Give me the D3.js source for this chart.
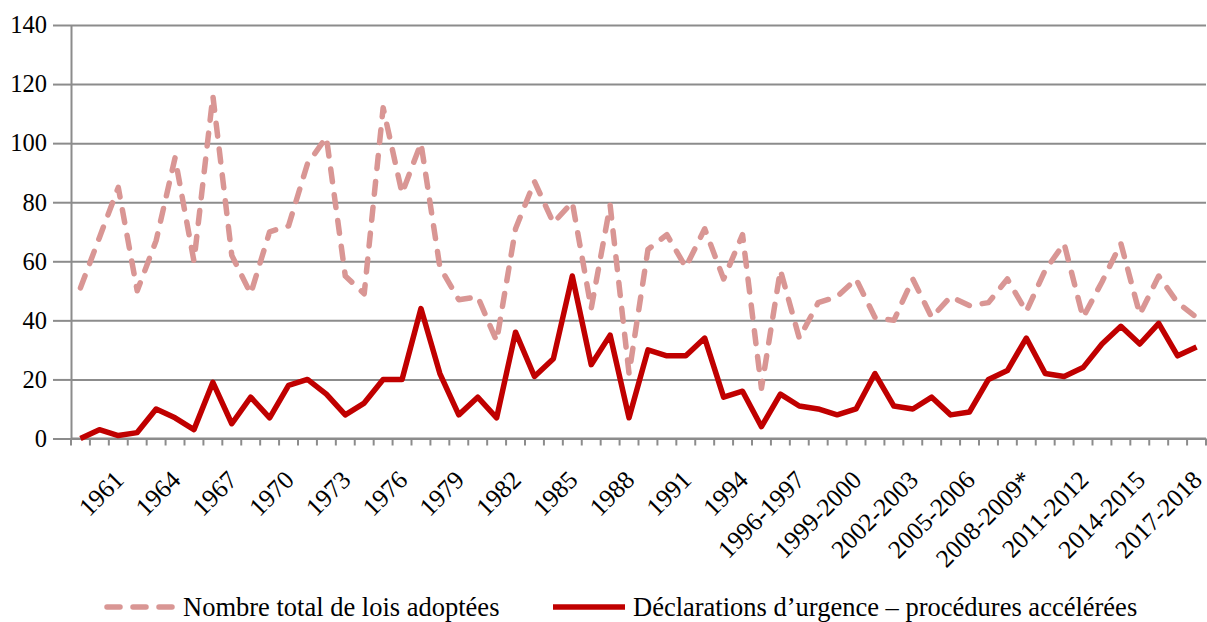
<!DOCTYPE html>
<html>
<head>
<meta charset="utf-8">
<script src="https://cdn.jsdelivr.net/npm/d3@7"></script>
<style>
  body { margin: 0; background: #fff; }
  svg text { font-family: "Liberation Serif", "Times New Roman", serif; fill: #000; }
</style>
</head>
<body>
<div id="chart"></div>
<script>
// categories: single years 1959-1995, then sessions 1995-1996 ... 2017-2018
const categories = [
  "1959","1960","1961","1962","1963","1964","1965","1966","1967","1968",
  "1969","1970","1971","1972","1973","1974","1975","1976","1977","1978",
  "1979","1980","1981","1982","1983","1984","1985","1986","1987","1988",
  "1989","1990","1991","1992","1993","1994","1995",
  "1995-1996","1996-1997","1997-1998","1998-1999","1999-2000","2000-2001",
  "2001-2002","2002-2003","2003-2004","2004-2005","2005-2006","2006-2007",
  "2007-2008","2008-2009*","2009-2010","2010-2011","2011-2012","2012-2013",
  "2013-2014","2014-2015","2015-2016","2016-2017","2017-2018"
];

// Nombre total de lois adoptées
const totalLois = [
  51, 68, 85, 50, 67, 95, 60, 116, 62, 49,
  70, 72, 93, 102, 55, 49, 112, 83, 100, 58,
  47, 48, 33, 71, 87, 73, 80, 44, 79, 22,
  64, 69, 58, 71, 54, 69, 17,
  57, 34, 46, 48, 54, 41,
  40, 54, 41, 48, 45, 46,
  54, 43, 57, 66, 41, 53,
  66, 42, 55, 46, 41
];

// Déclarations d'urgence – procédures accélérées
const urgence = [
  0, 3, 1, 2, 10, 7, 3, 19, 5, 14,
  7, 18, 20, 15, 8, 12, 20, 20, 44, 22,
  8, 14, 7, 36, 21, 27, 55, 25, 35, 7,
  30, 28, 28, 34, 14, 16, 4,
  15, 11, 10, 8, 10, 22,
  11, 10, 14, 8, 9, 20,
  23, 34, 22, 21, 24, 32,
  38, 32, 39, 28, 31
];

const yTicks = [0, 20, 40, 60, 80, 100, 120, 140];
const seriesNames = ["Nombre total de lois adoptées", "Déclarations d\u2019urgence \u2013 procédures accélérées"];

const W = 1207, H = 622;
const m = {left: 71, right: 1, top: 25, bottom: 183};
const gridColor = "#8c8c8c";
const pink = "#d99694";
const red = "#c00000";

const svg = d3.select("#chart").append("svg")
  .attr("width", W)
  .attr("height", H);

// scales
const x = d3.scaleBand()
  .domain(categories)
  .range([m.left, W - m.right]);

const y = d3.scaleLinear()
  .domain([0, 140])
  .range([H - m.bottom - 0.5, m.top]);

const cx = d => x(d) + x.bandwidth() / 2;

// horizontal gridlines
svg.append("g")
  .attr("transform", "translate(" + m.left + ",0)")
  .call(d3.axisLeft(y).tickValues(yTicks).tickSize(-(W - m.right - m.left)).tickFormat(""))
  .call(g => g.select(".domain").remove())
  .selectAll("line")
  .attr("stroke", gridColor)
  .attr("stroke-width", 2);

// y axis with long outside ticks
const yAxis = svg.append("g")
  .attr("transform", "translate(" + m.left + ",0)")
  .call(d3.axisLeft(y).tickValues(yTicks).tickSize(18).tickPadding(6).tickSizeOuter(0));
yAxis.select(".domain").attr("stroke", gridColor).attr("stroke-width", 2);
yAxis.selectAll("line").attr("stroke", gridColor).attr("stroke-width", 2);
yAxis.selectAll("text").attr("font-size", 24.5).attr("fill", "#000");

// x axis line and ticks between categories
const x0 = y(0);
const xAxis = svg.append("g");
xAxis.append("line")
  .attr("x1", m.left).attr("x2", W - m.right)
  .attr("y1", x0).attr("y2", x0)
  .attr("stroke", gridColor).attr("stroke-width", 2);
xAxis.selectAll(".tk")
  .data(categories.concat(["end"]))
  .enter().append("line")
  .attr("class", "tk")
  .attr("x1", (d, i) => i < categories.length ? x(d) : x.range()[1])
  .attr("x2", (d, i) => i < categories.length ? x(d) : x.range()[1])
  .attr("y1", x0).attr("y2", x0 + 7)
  .attr("stroke", gridColor).attr("stroke-width", 2);

// rotated labels every third category
xAxis.selectAll(".lbl")
  .data(categories.filter((d, i) => i % 3 === 2))
  .enter().append("text")
  .attr("class", "lbl")
  .attr("text-anchor", "end")
  .attr("font-size", 25.5)
  .attr("transform", d => "translate(" + (cx(d) + 7) + "," + (x0 + 43) + ") rotate(-45)")
  .text(d => d);

// lines
const line = d3.line()
  .x((d, i) => cx(categories[i]))
  .y(d => y(d));

svg.append("path")
  .datum(totalLois)
  .attr("d", line)
  .attr("fill", "none")
  .attr("stroke", pink)
  .attr("stroke-width", 5.5)
  .attr("stroke-dasharray", "13,13")
  .attr("stroke-linecap", "round")
  .attr("stroke-linejoin", "round");

svg.append("path")
  .datum(urgence)
  .attr("d", line)
  .attr("fill", "none")
  .attr("stroke", red)
  .attr("stroke-width", 5.5)
  .attr("stroke-linejoin", "round");

// legend
const legY = 607;
const leg = svg.append("g");
leg.append("line")
  .attr("x1", 107).attr("x2", 175).attr("y1", legY).attr("y2", legY)
  .attr("stroke", pink).attr("stroke-width", 5.5)
  .attr("stroke-dasharray", "13,13").attr("stroke-linecap", "round");
leg.append("text")
  .attr("x", 183).attr("y", legY).attr("dy", "0.33em")
  .attr("font-size", 26.5)
  .text(seriesNames[0]);
leg.append("line")
  .attr("x1", 553).attr("x2", 625).attr("y1", legY).attr("y2", legY)
  .attr("stroke", red).attr("stroke-width", 5.5);
leg.append("text")
  .attr("x", 633).attr("y", legY).attr("dy", "0.33em")
  .attr("font-size", 26.5)
  .text(seriesNames[1]);
</script>
</body>
</html>
